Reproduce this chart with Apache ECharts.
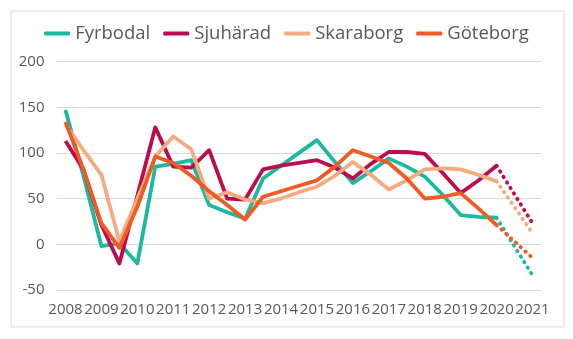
<!DOCTYPE html>
<html>
<head>
<meta charset="utf-8">
<script src="https://cdn.jsdelivr.net/npm/echarts@6/dist/echarts.min.js"></script>
<style>
  html, body { margin: 0; padding: 0; background: #ffffff; }
  #chart { width: 573px; height: 339px; }
</style>
</head>
<body>
<div id="chart"></div>
<script>
// Tick labels (years) and half-year categories
const years = ['2008','2009','2010','2011','2012','2013','2014','2015','2016','2017','2018','2019','2020','2021'];
const categories = [];
years.forEach(function (y, i) {
  categories.push(y + '-H1');
  if (i < years.length - 1) categories.push(y + '-H2');
});

// Observed values (half-yearly, 2008 H1 .. 2020 H1)
const fyrbodal  = [147, 75, -2, 1, -21, 85, 88, 92, 43, 35, 28, 72, 86, 100, 114, 90, 67, 80, 94, 85, 74, 54, 32, 30, 29];
const sjuharad  = [113, 82, 21, -21, 53, 128, 85, 84, 103, 50, 49, 82, 86, 89, 92, 84, 72, 88, 101, 101, 99, 78, 56, 70, 86];
const skaraborg = [131, 103, 76, 3, 50, 96, 118, 104, 50, 57, 49, 45, 50, 57, 63, 75, 90, 76, 60, 70, 82, 83, 82, 76, 69];
const goteborg  = [134, 82, 23, -4, 41, 96, 89, 75, 58, 43, 27, 52, 58, 64, 70, 85, 103, 96, 89, 72, 50, 52, 56, 39, 21];

// Forecast (dotted) endpoints: last observed value -> 2021
const fyrbodalProg  = [29, -34];
const sjuharadProg  = [86, 23];
const skaraborgProg = [69, 12];
const goteborgProg  = [21, -15];

const names  = ['Fyrbodal', 'Sjuhärad', 'Skaraborg', 'Göteborg'];
const colors = ['#1BB99D', '#BE0B4E', '#F5AB80', '#F15A22'];
const solid  = [fyrbodal, sjuharad, skaraborg, goteborg];
const prog   = [fyrbodalProg, sjuharadProg, skaraborgProg, goteborgProg];

function padSolid(arr) {
  const out = arr.slice();
  while (out.length < categories.length) out.push(null);
  return out;
}
function buildProg(p) {
  const out = categories.map(function () { return null; });
  out[categories.length - 3] = p[0];
  out[categories.length - 1] = p[1];
  return out;
}

const series = [];
names.forEach(function (n, i) {
  series.push({
    name: n, type: 'line', data: padSolid(solid[i]),
    symbol: 'none', color: colors[i],
    lineStyle: { width: 3.8, color: colors[i], join: 'round' },
    z: 2 + i
  });
});
names.forEach(function (n, i) {
  series.push({
    name: n, type: 'line', data: buildProg(prog[i]),
    symbol: 'none', color: colors[i], connectNulls: true,
    lineStyle: { width: 3.8, color: colors[i], type: [0.5, 6], cap: 'round' },
    z: 2 + i
  });
});

const chart = echarts.init(document.getElementById('chart'), null, { renderer: 'canvas' });
chart.setOption({
  animation: false,
  backgroundColor: '#ffffff',
  textStyle: { fontFamily: 'Open Sans' },
  graphic: [{
    type: 'rect', left: 8.5, top: 8.5, silent: true,
    shape: { width: 553, height: 316 },
    style: { fill: 'none', stroke: '#d9d9d9', lineWidth: 1 }
  }],
  legend: {
    data: names,
    top: 19,
    left: 'center',
    itemWidth: 26,
    itemHeight: 4,
    itemGap: 13,
    icon: 'roundRect',
    textStyle: { fontFamily: 'Open Sans', fontSize: 18.5, color: '#595959' }
  },
  grid: { left: 56.5, right: 31.5, top: 61.6, bottom: 49.1, containLabel: false },
  xAxis: {
    type: 'category',
    data: categories,
    boundaryGap: true,
    axisLine: { show: false },
    axisTick: { show: false },
    axisLabel: {
      interval: 1,
      margin: 12,
      fontFamily: 'Open Sans',
      fontSize: 15,
      color: '#595959',
      formatter: function (v) { return v.slice(0, 4); }
    },
    splitLine: { show: false }
  },
  yAxis: {
    type: 'value',
    min: -50, max: 200, interval: 50,
    axisLine: { show: false },
    axisTick: { show: false },
    axisLabel: { margin: 12, fontFamily: 'Open Sans', fontSize: 15, color: '#595959' },
    splitLine: { lineStyle: { color: '#d9d9d9', width: 1 } }
  },
  series: series
});
</script>
</body>
</html>
